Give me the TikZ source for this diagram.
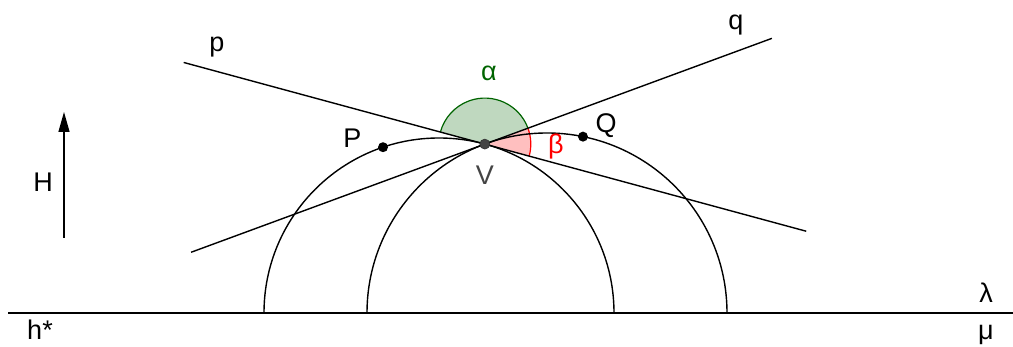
\documentclass[tikz,border=0pt]{standalone}
\usepackage{fontspec}
\setmainfont{Liberation Sans}
\usetikzlibrary{arrows.meta,calc}
\definecolor{angG}{RGB}{0,100,0}
\definecolor{angGfill}{RGB}{191,216,191}
\definecolor{angRfill}{RGB}{255,191,191}
\definecolor{ptgray}{RGB}{68,68,68}
\tikzset{
  geo/.style={line width=1.4pt,black},
  lbl/.style={inner sep=0pt,font=\fontsize{27}{30}\selectfont},
  pt/.style={circle,fill=black,inner sep=0pt,minimum size=10pt},
}
\begin{document}
\begin{tikzpicture}[x=1pt,y=1pt]
\useasboundingbox (0,0) rectangle (1013,347);
% key points
\coordinate (V) at (484.8,202.9);
\coordinate (CL) at (439,34);
\coordinate (CR) at (547,34);
\coordinate (L0) at (264,34);
\coordinate (R0) at (367,34);
\coordinate (B0) at (8,34);
\coordinate (B1) at (1013,34);
\coordinate (pA) at ($(V)+(164.83:312)$);
\coordinate (pB) at ($(V)+(-15.17:333)$);
\coordinate (qA) at ($(V)+(200.22:313)$);
\coordinate (qB) at ($(V)+(20.22:306)$);
\coordinate (Hb) at (64,109);
\coordinate (Ht) at (64,235);
% angle sectors
\fill[angGfill] (V) -- ($(V)+(20.22:46)$) arc[start angle=20.22,end angle=164.83,radius=46pt] -- cycle;
\draw[angG,line width=1.2pt] ($(V)+(20.22:46)$) arc[start angle=20.22,end angle=164.83,radius=46pt];
\fill[angRfill] (V) -- ($(V)+(-15.17:46)$) arc[start angle=-15.17,end angle=20.22,radius=46pt] -- cycle;
\draw[red,line width=1.2pt] ($(V)+(-15.17:46)$) arc[start angle=-15.17,end angle=20.22,radius=46pt];
% baseline
\draw[geo] (B0) -- (B1);
% half circles
\draw[geo] (L0) arc[start angle=180,end angle=0,radius=175pt];
\draw[geo] (R0) arc[start angle=180,end angle=0,radius=180pt];
% lines p and q
\draw[geo] (pA) -- (pB);
\draw[geo] (qA) -- (qB);
% arrow H
\draw[geo,-{Triangle[length=20pt,width=11pt]}] (Hb) -- (Ht);
% points
\node[pt] (P) at ($(CL)+(108.66:175)$) {};
\node[pt] (Q) at ($(CR)+(78.47:180)$) {};
\node[circle,fill=ptgray,draw=black!80,line width=0.6pt,inner sep=0pt,minimum size=10pt] (Vd) at (V) {};
% labels
\node[lbl] (alpha) at (489,274) {\textcolor{angG}{α}};
\node[lbl] (beta) at (556,200) {\textcolor{red}{β}};
\node[lbl,text=ptgray] (Vl) at (485,172) {V};
\node[lbl] (Pl) at (352.5,208.5) {P};
\node[lbl] (Ql) at (606,221) {Q};
\node[lbl] (pl) at (217,300) {p};
\node[lbl] (ql) at (736,322) {q};
\node[lbl] (Hl) at (43,164.5) {H};
\node[lbl] (hs) at (40,17) {h*};
\node[lbl] (lam) at (986,54.5) {λ};
\node[lbl] (mu) at (986,12) {μ};
\end{tikzpicture}
\end{document}
